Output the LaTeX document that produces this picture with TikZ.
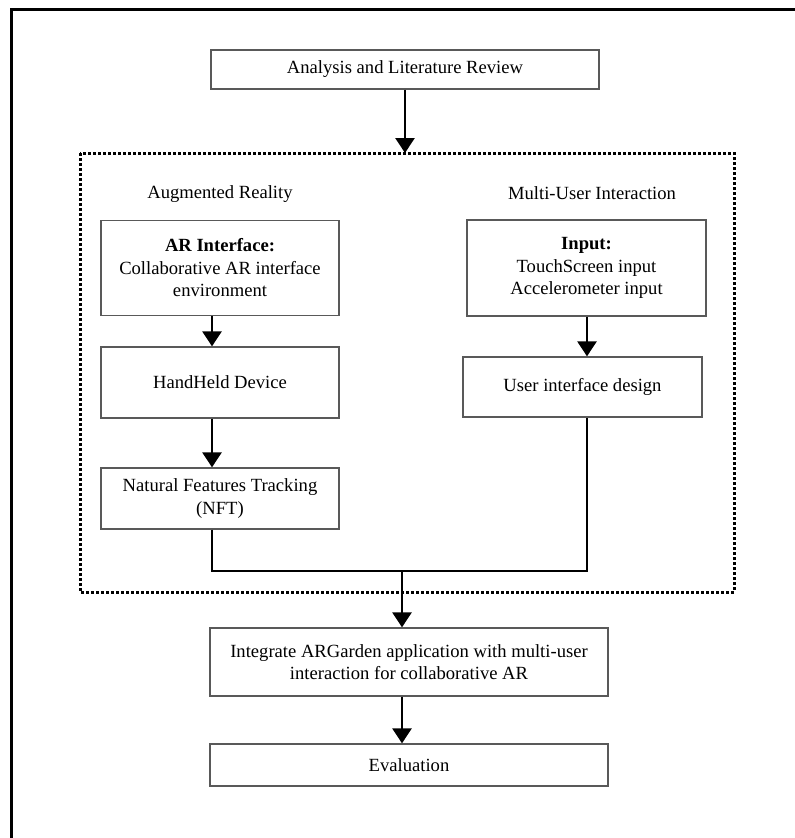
\documentclass[tikz,border=0pt]{standalone}
\usepackage{fontspec}
\setmainfont{Liberation Serif}
\usepackage{tikz}
\usetikzlibrary{arrows.meta}

\begin{document}
\begin{tikzpicture}[x=1pt,y=-1pt,
	box/.style={draw=black!65, line width=1.3pt, align=center, inner sep=2pt},
	arr/.style={line width=2.6pt, -{Triangle[width=19pt,length=15pt]}},
	link/.style={line width=2.6pt}]
	\fontsize{18.6pt}{22.5pt}\selectfont
	\useasboundingbox (0,0) rectangle (795,838);

	%Outer frame
	\draw[line width=3.2pt] (11.8,840) -- (11.8,9.7) -- (797,9.7);

	%Dotted group
	\draw[line width=3pt, dash pattern=on 3pt off 2pt] (80,153) rectangle (734,592);
	\node (arlabel) at (220,194) {Augmented Reality};
	\node (mulabel) at (592,193) {Multi-User Interaction};

	%Boxes
	\node[box, minimum width=388pt, minimum height=39pt] (review) at (405,69.5) {Analysis and Literature Review};
	\node[box, minimum width=238pt, minimum height=95pt] (arinterface) at (220,268) {\textbf{AR Interface:}\\Collaborative AR interface\\environment};
	\node[box, minimum width=238pt, minimum height=71pt] (handheld) at (220,382.5) {HandHeld Device};
	\node[box, minimum width=238pt, minimum height=61pt] (nft) at (220,498.5) {Natural Features Tracking\\(NFT)};
	\node[box, minimum width=239pt, minimum height=96pt] (input) at (586.5,268) {\textbf{Input:}\\TouchScreen input\\Accelerometer input};
	\node[box, minimum width=239pt, minimum height=60pt] (uidesign) at (582.5,387) {User interface design};
	\node[box, minimum width=398pt, minimum height=68pt] (integrate) at (409,662) {Integrate ARGarden application with multi-user\\interaction for collaborative AR};
	\node[box, minimum width=398pt, minimum height=42pt] (evaluation) at (409,765) {Evaluation};

	%Connectors
	\coordinate (merge) at (402,571);
	\draw[arr] (review.south) -- (review.south |- 0,153);
	\draw[arr] ([xshift=-8pt]arinterface.south) -- ([xshift=-8pt]handheld.north);
	\draw[arr] ([xshift=-8pt]handheld.south) -- ([xshift=-8pt]nft.north);
	\draw[arr] ([xshift=0.5pt]input.south) -- ([xshift=4.5pt]uidesign.north);
	\draw[link] ([xshift=-8pt]nft.south) |- (merge) -| ([xshift=4.5pt]uidesign.south);
	\draw[arr] (merge) -- (merge |- integrate.north);
	\draw[arr] (merge |- integrate.south) -- (merge |- evaluation.north);
\end{tikzpicture}
\end{document}
